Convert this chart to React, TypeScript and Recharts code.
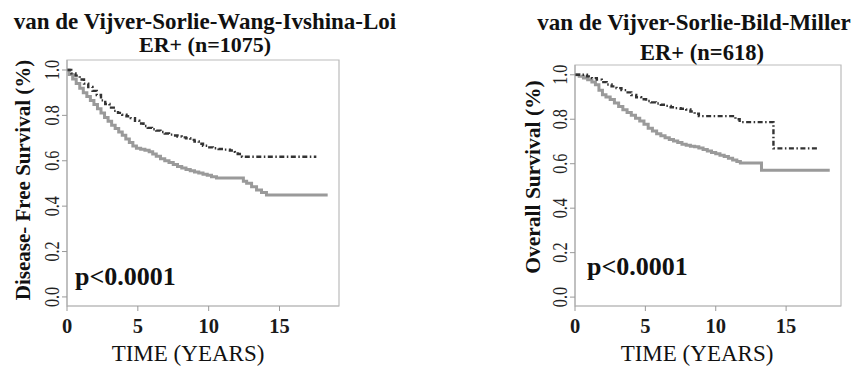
import { LineChart, Line, XAxis, YAxis, ReferenceArea } from "recharts";

const xTicks = [0, 5, 10, 15];
const yTicks = [0, 0.2, 0.4, 0.6, 0.8, 1.0];

// left panel: disease-free survival, ER+ (n=1075)
const dfsLowT = [0, 0.3, 0.6, 0.9, 1.2, 1.5, 1.8, 2.1, 2.4, 2.7, 3.0, 3.3, 3.6, 3.9, 4.2, 4.5, 4.8, 5.1, 5.4, 5.7, 6.0, 6.3, 6.6, 6.9, 7.2, 7.5, 7.8, 8.1, 8.4, 8.7, 9.0, 9.3, 9.6, 9.9, 10.3, 10.7, 11.1, 11.5, 11.85, 12.05, 12.35, 17.6];
const dfsLowS = [1.0, 0.985, 0.975, 0.958, 0.94, 0.925, 0.908, 0.89, 0.866, 0.85, 0.834, 0.82, 0.811, 0.803, 0.796, 0.788, 0.776, 0.764, 0.753, 0.745, 0.739, 0.733, 0.727, 0.72, 0.715, 0.711, 0.707, 0.703, 0.699, 0.692, 0.685, 0.675, 0.666, 0.659, 0.655, 0.652, 0.649, 0.645, 0.639, 0.63, 0.618, 0.618];
const dfsHighT = [0, 0.15, 0.4, 0.65, 0.9, 1.15, 1.4, 1.65, 1.9, 2.15, 2.4, 2.65, 2.9, 3.15, 3.4, 3.65, 3.9, 4.15, 4.4, 4.65, 4.9, 5.2, 5.5, 5.8, 6.05, 6.3, 6.6, 6.9, 7.2, 7.5, 7.8, 8.1, 8.4, 8.7, 9.0, 9.3, 9.6, 9.9, 10.2, 10.55, 12.45, 12.68, 13.03, 13.38, 13.73, 14.08, 18.4];
const dfsHighS = [1.0, 0.98, 0.96, 0.94, 0.92, 0.9, 0.883, 0.866, 0.848, 0.829, 0.81, 0.791, 0.774, 0.757, 0.742, 0.727, 0.712, 0.696, 0.68, 0.665, 0.655, 0.651, 0.646, 0.64, 0.63, 0.62, 0.609, 0.6, 0.592, 0.584, 0.575, 0.568, 0.561, 0.556, 0.551, 0.546, 0.541, 0.536, 0.53, 0.524, 0.51, 0.501, 0.486, 0.471, 0.46, 0.449, 0.449];

// right panel: overall survival, ER+ (n=618)
const osLowT = [0, 0.85, 1.2, 1.55, 1.9, 2.25, 2.6, 2.95, 3.3, 3.65, 4.0, 4.35, 4.7, 5.05, 5.4, 5.75, 6.1, 6.45, 6.8, 7.15, 7.5, 7.9, 8.2, 8.5, 8.8, 11.4, 11.7, 14.1, 17.3];
const osLowS = [1.0, 0.993, 0.985, 0.978, 0.967, 0.956, 0.948, 0.94, 0.931, 0.921, 0.909, 0.899, 0.89, 0.882, 0.876, 0.871, 0.865, 0.86, 0.854, 0.85, 0.847, 0.844, 0.835, 0.825, 0.814, 0.8, 0.787, 0.669, 0.669];
const osHighT = [0, 0.3, 0.6, 0.9, 1.2, 1.45, 1.7, 1.95, 2.2, 2.5, 2.8, 3.1, 3.4, 3.7, 4.0, 4.3, 4.6, 4.9, 5.2, 5.5, 5.8, 6.1, 6.4, 6.7, 7.0, 7.3, 7.6, 7.9, 8.2, 8.5, 8.8, 9.1, 9.4, 9.7, 10.0, 10.3, 10.6, 10.9, 11.2, 11.5, 11.75, 13.25, 18.1];
const osHighS = [1.0, 0.993, 0.986, 0.978, 0.968, 0.955, 0.93, 0.91, 0.9, 0.889, 0.873, 0.857, 0.843, 0.83, 0.818, 0.805, 0.792, 0.777, 0.76, 0.747, 0.735, 0.726, 0.717, 0.709, 0.702, 0.695, 0.688, 0.683, 0.679, 0.676, 0.671, 0.664, 0.657, 0.65, 0.645, 0.638, 0.632, 0.625, 0.617, 0.61, 0.603, 0.571, 0.571];

const serif = "'Liberation Serif', 'Times New Roman', serif";
const yMin = -0.04;
const yMax = 1.044;

function pts(t: number[], s: number[]) {
  return t.map((x, i) => ({ t: x, s: s[i] }));
}

// y tick labels run along the axis, like R's default las=0
function YTick({ x, y, payload }: any) {
  return (
    <g transform={`translate(${x}, ${y}) rotate(-90) scale(0.85, 1.15)`}>
      <text x={0} y={0} textAnchor="middle" dy="0.35em" fontFamily={serif} fontSize={19} fill="#222">
        {Number(payload.value).toFixed(1)}
      </text>
    </g>
  );
}

function Panel({
  xMax,
  margin,
  low,
  high,
}: {
  xMax: number;
  margin: { top: number; right: number; bottom: number; left: number };
  low: { t: number; s: number }[];
  high: { t: number; s: number }[];
}) {
  return (
    <LineChart width={427} height={367} margin={margin}>
      <XAxis
        type="number"
        dataKey="t"
        domain={[0, xMax]}
        ticks={xTicks}
        allowDataOverflow
        height={30}
        tickSize={5}
        tickMargin={7}
        axisLine={{ stroke: "#bbb" }}
        tickLine={{ stroke: "#999" }}
        tick={{ fontSize: 20.5, fontWeight: "bold", fill: "#1a1a1a", fontFamily: serif }}
      />
      <YAxis
        type="number"
        domain={[yMin, yMax]}
        ticks={yTicks}
        allowDataOverflow
        width={60}
        tickSize={5}
        tickMargin={11}
        axisLine={{ stroke: "#aaa" }}
        tickLine={{ stroke: "#999" }}
        tick={<YTick />}
      />
      <ReferenceArea x1={0} x2={xMax} y1={yMin} y2={yMax} fill="none" stroke="#bbb" strokeWidth={1.2} />
      <Line
        data={high}
        dataKey="s"
        type="stepAfter"
        stroke="#9a9a9a"
        strokeWidth={3}
        dot={false}
        isAnimationActive={false}
      />
      <Line
        data={low}
        dataKey="s"
        type="stepAfter"
        stroke="#333"
        strokeWidth={2.4}
        strokeDasharray="5 2.5 1.5 2.5"
        dot={false}
        isAnimationActive={false}
      />
    </LineChart>
  );
}

function Txt({
  x,
  y,
  size,
  bold,
  rotate,
  anchor = "center",
  children,
}: {
  x: number;
  y: number;
  size: number;
  bold?: boolean;
  rotate?: boolean;
  anchor?: "center" | "left";
  children: string;
}) {
  const tx = anchor === "center" ? "-50%" : "0";
  return (
    <div
      style={{
        position: "absolute",
        left: x,
        top: y,
        transform: `translate(${tx}, -50%)${rotate ? " rotate(-90deg)" : ""}`,
        fontFamily: serif,
        fontSize: size,
        fontWeight: bold ? "bold" : "normal",
        lineHeight: 1,
        whiteSpace: "nowrap",
        color: "#111",
      }}
    >
      {children}
    </div>
  );
}

export default function App() {
  return (
    <div style={{ position: "absolute", left: 0, top: 0, width: 854, height: 367, background: "#fff" }}>
      <div style={{ position: "absolute", left: 0, top: 0 }}>
        <Panel
          xMax={19.2}
          margin={{ top: 60, right: 88, bottom: 31, left: 7 }}
          low={pts(dfsLowT, dfsLowS)}
          high={pts(dfsHighT, dfsHighS)}
        />
      </div>
      <div style={{ position: "absolute", left: 427, top: 0 }}>
        <Panel
          xMax={18.9}
          margin={{ top: 65, right: 13, bottom: 31, left: 88 }}
          low={pts(osLowT, osLowS)}
          high={pts(osHighT, osHighS)}
        />
      </div>

      <Txt x={205} y={21} size={23} bold>van de Vijver-Sorlie-Wang-Ivshina-Loi</Txt>
      <Txt x={205} y={45} size={22} bold>ER+ (n=1075)</Txt>
      <Txt x={23} y={180} size={21} bold rotate>Disease- Free Survival (%)</Txt>
      <Txt x={188} y={353} size={23}>TIME (YEARS)</Txt>
      <Txt x={75} y={277} size={26} bold anchor="left">p&lt;0.0001</Txt>

      <Txt x={694} y={22} size={23} bold>van de Vijver-Sorlie-Bild-Miller</Txt>
      <Txt x={702} y={53} size={22.5} bold>ER+ (n=618)</Txt>
      <Txt x={534} y={177} size={21.5} bold rotate>Overall Survival (%)</Txt>
      <Txt x={697} y={353} size={23}>TIME (YEARS)</Txt>
      <Txt x={587} y={267} size={26} bold anchor="left">p&lt;0.0001</Txt>
    </div>
  );
}
